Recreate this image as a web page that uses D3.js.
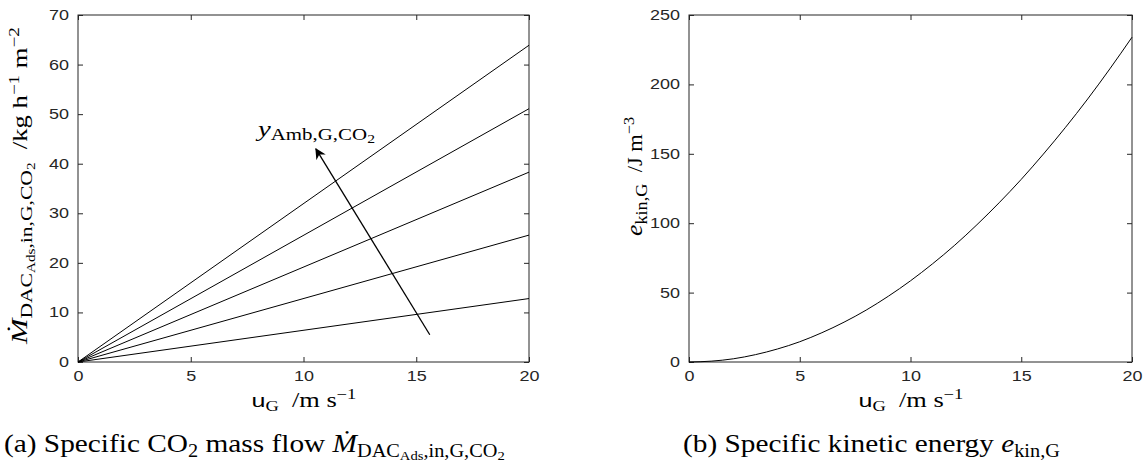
<!DOCTYPE html>
<html>
<head>
<meta charset="utf-8">
<script src="https://cdn.jsdelivr.net/npm/d3@7"></script>
<style>
  body { margin: 0; background: #fff; }
  svg { display: block; }
  .tick text { font-family: "Liberation Sans", Arial, sans-serif; font-size: 14px; fill: #262626; }
  .serif { font-family: "Liberation Serif", "Times New Roman", serif; fill: #000; }
</style>
</head>
<body>
<div id="chart"></div>
<script>
// gas velocity (m/s), start and end of the straight lines
var uEnds = [0, 20];
// CO2 mass flow at u = 20 for each ambient CO2 fraction (lines start at 0)
var massFlowEnds = [12.8, 25.6, 38.3, 51.1, 63.9];
// kinetic energy curve
var uKin = [0, 1, 2, 3, 4, 5, 6, 7, 8, 9, 10, 11, 12, 13, 14, 15, 16, 17, 18, 19, 20];
var eKin = [0, 0.6, 2.3, 5.3, 9.4, 14.6, 21.1, 28.7, 37.4, 47.4, 58.5, 70.8, 84.2, 98.9, 114.7, 131.6, 149.8, 169.1, 189.5, 211.2, 234];
// arrow in panel (a), data coords: tail then head
var arrowU = [15.6, 10.55];
var arrowM = [5.5, 43];

var xTicks = [0, 5, 10, 15, 20];
var yTicksA = [0, 10, 20, 30, 40, 50, 60, 70];
var yTicksB = [0, 50, 100, 150, 200, 250];

var width = 1147, height = 468;
var svg = d3.select("#chart").append("svg").attr("width", width).attr("height", height);

svg.append("defs").append("marker")
    .attr("id", "head").attr("viewBox", "0 0 10 10")
    .attr("refX", 9).attr("refY", 5)
    .attr("markerWidth", 12).attr("markerHeight", 11)
    .attr("markerUnits", "userSpaceOnUse")
    .attr("orient", "auto")
    .append("path").attr("d", "M0,0 L10,5 L0,10 L3,5 Z").attr("fill", "#000");

// text made of pieces with sub/superscript shifts
function richText(g, pieces) {
    var t = g.append("text").attr("class", "serif").attr("xml:space", "preserve");
    pieces.forEach(function(p) {
        t.append("tspan").text(p.t)
            .attr("dy", p.dy || 0)
            .attr("font-size", p.s)
            .attr("font-style", p.i ? "italic" : null)
            .attr("font-family", p.sans ? "Liberation Sans, Arial, sans-serif" : null);
    });
    return t;
}

// place text with its start at (x,y), rotated, stretched along its run to a given length
function place(t, x, y, rot, len) {
    var w = t.node().getComputedTextLength();
    var sx = len / w;
    t.attr("transform", "translate(" + x + "," + y + ") rotate(" + rot + ") scale(" + sx + ",1)");
}

function panel(x0, x1, yMax, yTicks) {
    var x = d3.scaleLinear().domain([0, 20]).range([x0, x1]);
    var y = d3.scaleLinear().domain([0, yMax]).range([362, 15]);
    var g = svg.append("g");

    g.append("rect").attr("x", x0).attr("y", 15).attr("width", x1 - x0).attr("height", 347)
        .attr("fill", "none").attr("stroke", "#262626").attr("stroke-width", 1);

    var axes = [
        [d3.axisBottom(x).tickValues(xTicks).tickPadding(9), "translate(0,362)"],
        [d3.axisTop(x).tickValues(xTicks).tickFormat(""), "translate(0,15)"],
        [d3.axisLeft(y).tickValues(yTicks).tickPadding(9), "translate(" + x0 + ",0)"],
        [d3.axisRight(y).tickValues(yTicks).tickFormat(""), "translate(" + x1 + ",0)"]
    ];
    axes.forEach(function(a) {
        var ga = g.append("g").attr("transform", a[1])
            .call(a[0].tickSizeInner(-5).tickSizeOuter(0));
        ga.select(".domain").remove();
        ga.selectAll("line").attr("stroke", "#262626");
        ga.selectAll("text").each(function() {
            var s = d3.select(this);
            if (s.text()) s.attr("textLength", 10 * s.text().length).attr("lengthAdjust", "spacingAndGlyphs");
        });
    });

    var xl = richText(g, [
        {t: "u", s: 19, sans: true},
        {t: "G", s: 14, dy: 4},
        {t: "  /m s", s: 20, dy: -4},
        {t: "−1", s: 14, dy: -8}
    ]);
    place(xl, (x0 + x1) / 2 - 52, 407, 0, 105);
    return {g: g, x: x, y: y};
}

// (a)
var A = panel(78, 529, 70, yTicksA);
var line = d3.line().x(function(d) { return A.x(d[0]); }).y(function(d) { return A.y(d[1]); });
A.g.selectAll("path.flow").data(massFlowEnds).enter().append("path")
    .attr("class", "flow")
    .attr("d", function(v) { return line([[uEnds[0], 0], [uEnds[1], v]]); })
    .attr("fill", "none").attr("stroke", "#000").attr("stroke-width", 1);

A.g.append("line")
    .attr("x1", A.x(arrowU[0])).attr("y1", A.y(arrowM[0]))
    .attr("x2", A.x(arrowU[1])).attr("y2", A.y(arrowM[1]))
    .attr("stroke", "#000").attr("stroke-width", 1.3).attr("marker-end", "url(#head)");

var amb = richText(A.g, [
    {t: "y", s: 22, i: true},
    {t: "Amb,G,CO", s: 16, dy: 4},
    {t: "2", s: 12, dy: 3}
]);
place(amb, 258, 136, 0, 117);

var yla = richText(A.g, [
    {t: "Ṁ", s: 24, i: true},
    {t: "DAC", s: 17, dy: 5},
    {t: "Ads", s: 12, dy: 3},
    {t: ",in,G,CO", s: 17, dy: -3},
    {t: "2", s: 12, dy: 3},
    {t: "  /kg h", s: 21, dy: -8},
    {t: "−1", s: 15, dy: -8},
    {t: " m", s: 21, dy: 8},
    {t: "−2", s: 15, dy: -8}
]);
place(yla, 27, 344, -90, 317);

// (b)
var B = panel(689, 1132, 250, yTicksB);
var curve = d3.line().curve(d3.curveMonotoneX)
    .x(function(d, i) { return B.x(uKin[i]); }).y(function(d) { return B.y(d); });
B.g.append("path").attr("d", curve(eKin))
    .attr("fill", "none").attr("stroke", "#000").attr("stroke-width", 1);

var ylb = richText(B.g, [
    {t: "e", s: 24, i: true},
    {t: "kin,G", s: 17, dy: 5},
    {t: "  /J m", s: 21, dy: -5},
    {t: "−3", s: 15, dy: -8}
]);
place(ylb, 642, 236, -90, 119);

// captions
var capA = richText(svg, [
    {t: "(a) Specific CO", s: 26},
    {t: "2", s: 18, dy: 5},
    {t: " mass flow ", s: 26, dy: -5},
    {t: "Ṁ", s: 26, i: true},
    {t: "DAC", s: 18, dy: 5},
    {t: "Ads", s: 13, dy: 3},
    {t: ",in,G,CO", s: 18, dy: -3},
    {t: "2", s: 13, dy: 3}
]);
place(capA, 4, 452, 0, 501);

var capB = richText(svg, [
    {t: "(b) Specific kinetic energy ", s: 26},
    {t: "e", s: 26, i: true},
    {t: "kin,G", s: 18, dy: 5}
]);
place(capB, 683, 452, 0, 377);
</script>
</body>
</html>
